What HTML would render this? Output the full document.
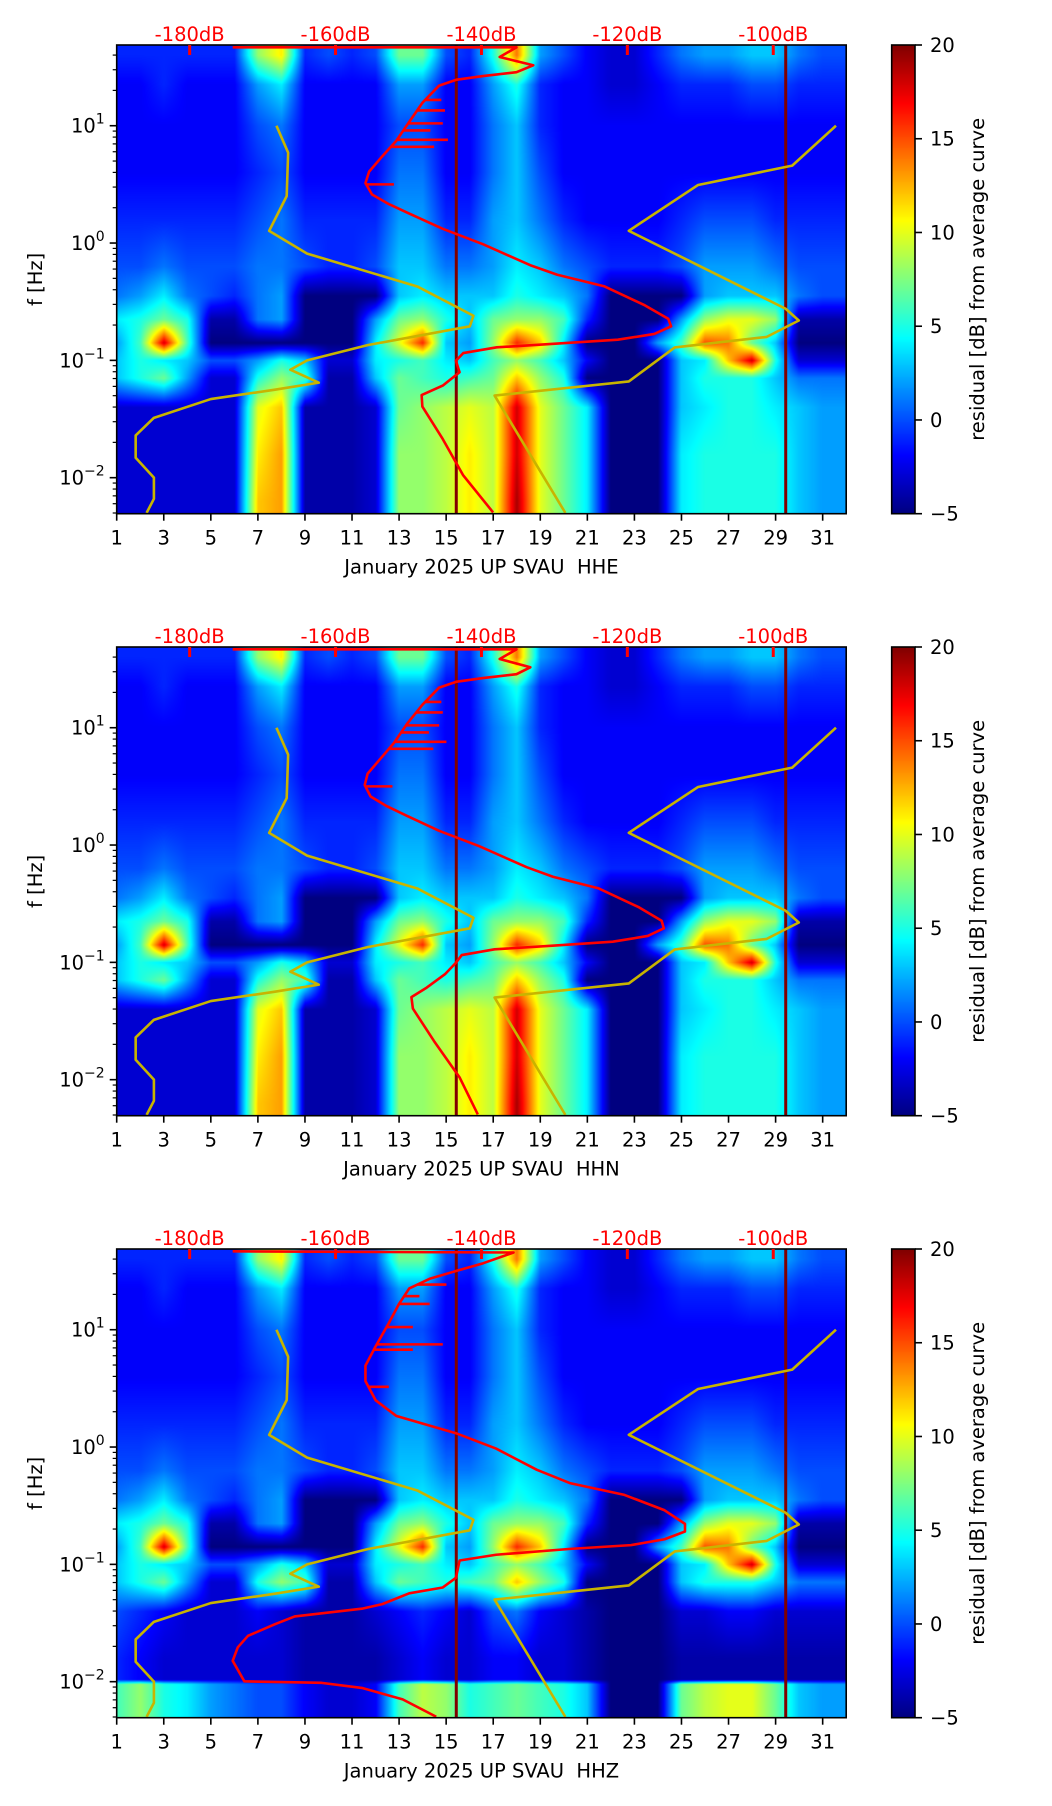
<!DOCTYPE html>
<html><head><meta charset="utf-8"><style>
html,body{margin:0;padding:0;background:#fff;}
#fig{position:relative;width:1052px;height:1806px;overflow:hidden;background:#fff;}
canvas{position:absolute;}
svg{position:absolute;left:0;top:0;}
text{font-family:"DejaVu Sans","Liberation Sans",sans-serif;}
</style></head><body>
<div id="fig"></div>
<script>
// ---------- data ----------
const dayTicks = [1,3,5,7,9,11,13,15,17,19,21,23,25,27,29,31];
const dbTicks = [-180,-160,-140,-120,-100];
const cbTicks = [-5,0,5,10,15,20];
const yDecades = [-2,-1,0,1];
const channels = ["HHE","HHN","HHZ"];
const stationVerticalLines = [15.43, 29.43];

// spectrogram residual grid (dB), rows by log10(f), columns = days 1..31
const rowLogF = [1.6,1.35,1.0,0.6,0.2,-0.2,-0.45,-0.65,-0.85,-1.0,-1.15,-1.4,-1.8,-2.2];
const r0 = [-1,-1,-1,-1,-1,-1,8,11,-1,0,-1,0,7,7,0,-1,5,14,2,0,-2,-3,-3,-1,1,2,2,3,3,1,0];
const r1 = [-2,-2,-1,-2,-2,-2,2,4,-2,-2,-2,-2,2,2,-2,-2,2,5,-1,-2,-2,-3,-3,-2,-1,-1,-1,0,0,-1,-1];
const r2 = [-2,-2,-2,-2,-2,-2,0,1,-2,-2,-2,-2,0,0,-2,-2,1,3,-1,-2,-2,-2,-2,-2,-2,-2,-2,-2,-2,-2,-2];
const r3 = [-2,-2,-2,-2,-2,-2,-1,0,-2,-2,-2,-2,1,1,-2,-2,1,3,0,-2,-2,-2,-2,-2,-2,-2,-2,-2,-2,-2,-2];
const r4 = [-1,-1,-1,-1,-1,-1,0,1,-1,-1,-1,-1,2,2,-1,-1,2,3,1,-1,-2,-2,-2,-2,-1,0,0,0,-1,-1,-1];
const r5 = [0,0,1,0,0,0,1,1,0,-1,-1,0,3,3,1,1,2,4,3,1,0,-1,-1,-1,0,2,2,2,1,0,0];
const r6 = [1,2,4,1,0,-1,1,2,-5,-5,-5,-5,3,4,3,3,3,5,4,3,1,-5,-5,-5,-5,2,3,3,3,1,0];
const r7 = [4,5,7,5,-4,-4,1,2,-5,-5,-5,2,7,8,5,3,7,8,8,6,-1,-5,-5,-5,2,8,10,10,8,-4,-4];
const r8 = [2,6,18,6,-5,-5,-5,-5,-5,-5,-5,4,10,16,3,2,8,16,12,4,-5,-5,-5,2,6,15,14,7,3,-5,-5];
const r9 = [3,5,4,3,0,0,2,5,3,-3,-3,4,5,6,4,3,6,8,6,3,-2,-5,-5,-5,3,4,12,18,5,-3,-3];
const r10 = [3,5,7,2,-3,-3,5,8,6,-4,-4,3,7,6,5,6,7,12,8,5,-5,-5,-5,-5,3,5,5,5,3,1,1];
const r11 = [-3,-3,-3,-3,-3,-3,10,12,-4,-4,-4,-3,7,8,9,10,9,18,10,7,4,-5,-5,-5,3,4,5,5,4,3,2];
const r12 = [-3,-3,-3,-3,-3,-3,11,13,-4,-4,-4,-3,8,8,9,11,9,18,10,7,4,-5,-5,-5,4,5,5,5,5,3,2];
const r13 = [-3,-3,-3,-3,-3,-3,12,13,-4,-4,-4,-3,8,8,9,11,9,19,10,7,4,-5,-5,-5,4,5,5,5,5,3,2];
// HHZ low-frequency differences
const rowLogFZ = [1.6,1.35,1.0,0.6,0.2,-0.2,-0.45,-0.65,-0.85,-1.0,-1.15,-1.4,-1.8,-1.98,-2.02,-2.2];
const z11 = [0,-1,-2,-3,-3,-3,-2,-3,-4,-4,-4,-3,-2,-1,-2,-3,0,1,-2,-3,-4,-5,-5,-5,-3,-3,-2,-2,-3,-3,-3];
const z12 = [-1,-2,-3,-3,-3,-3,-3,-3,-4,-4,-4,-4,-3,-2,-3,-3,-2,-2,-3,-3,-4,-5,-5,-5,-4,-4,-4,-4,-4,-4,-4];
const z14 = [6,8,5,4,2,1,0,0,-2,-3,-3,-2,6,9,8,5,6,7,6,5,3,-5,-5,-5,7,9,10,10,7,3,2];

// low noise model (dB, log10 f)
const nlnmDB = [-168.1,-166.5,-166.7,-169.1,-163.9,-148.8,-141.1,-141.6,-155.6,-163.9,-166.2,-162.3,-168.3,-177.1,-184.9,-187.4,-187.4,-184.9,-184.9,-185.9];
const nlnmLF = [1.0,0.77,0.40,0.104,-0.09,-0.37,-0.62,-0.71,-0.87,-1.0,-1.08,-1.19,-1.25,-1.33,-1.49,-1.64,-1.83,-2.0,-2.18,-2.30];
// high noise model
const nhnmDB = [-91.4,-97.4,-110.3,-119.8,-98.3,-96.5,-100.9,-113.5,-119.8,-138.2,-128.5];
const nhnmLF = [1.0,0.66,0.495,0.104,-0.56,-0.66,-0.80,-0.89,-1.18,-1.30,-2.30];

// average PSD curve HHE
const avgE_DB = [-174.1,-135.2,-137.5,-132.9,-135.2,-139.8,-143.5,-145.8,-148.1,-149.9,-151.7,-153.6,-155.4,-155.9,-155.0,-152.7,-149.9,-145.3,-139.8,-133.3,-129.6,-123.2,-117.6,-114.4,-114.0,-116.3,-121.3,-129.6,-137.9,-142.5,-143.5,-143.0,-145.3,-148.2,-148.1,-145.3,-142.5,-138.4];
const avgE_LF = [1.668,1.668,1.586,1.515,1.456,1.423,1.391,1.342,1.195,1.033,0.870,0.739,0.609,0.511,0.414,0.332,0.251,0.121,-0.010,-0.189,-0.270,-0.368,-0.531,-0.645,-0.710,-0.775,-0.824,-0.857,-0.889,-0.938,-1.003,-1.101,-1.215,-1.296,-1.394,-1.671,-1.980,-2.296];
const spikeE_LF = [1.22,1.13,1.02,0.96,0.88,0.82,0.50];
const spikeE_DB = [-145.5,-145.0,-145.3,-147.0,-144.6,-146.5,-152.0];
// HHN
const avgN_DB = [-174.1,-135.2,-137.5,-133.3,-135.2,-139.8,-143.5,-145.8,-148.1,-150.2,-152.0,-153.8,-155.6,-156.0,-155.2,-153.0,-150.3,-145.8,-140.3,-133.8,-130.2,-124.0,-118.4,-115.3,-115.0,-117.2,-122.0,-130.0,-138.2,-142.7,-143.5,-145.0,-147.5,-149.6,-149.4,-146.5,-143.0,-140.5];
const avgN_LF = [1.668,1.668,1.586,1.515,1.456,1.423,1.391,1.342,1.195,1.033,0.870,0.739,0.609,0.511,0.414,0.332,0.251,0.121,-0.010,-0.189,-0.270,-0.368,-0.531,-0.645,-0.710,-0.775,-0.824,-0.857,-0.889,-0.938,-1.003,-1.101,-1.215,-1.296,-1.394,-1.671,-1.980,-2.296];
const spikeN_LF = [1.22,1.13,1.02,0.96,0.88,0.82,0.50];
const spikeN_DB = [-145.5,-145.3,-145.8,-147.2,-144.8,-146.6,-152.2];
// HHZ
const avgZ_DB = [-174.1,-135.6,-139.8,-143.5,-147.1,-149.9,-151.3,-152.7,-154.5,-155.9,-155.9,-154.5,-151.7,-143.5,-138.0,-132.4,-127.8,-120.4,-114.9,-112.1,-112.1,-114.9,-119.5,-127.8,-138.0,-143.0,-143.5,-145.3,-149.9,-153.6,-156.4,-165.6,-168.3,-172.0,-173.4,-174.1,-172.5,-161.9,-156.4,-150.8,-146.2];
const avgZ_LF = [1.668,1.658,1.566,1.500,1.434,1.352,1.220,1.056,0.859,0.694,0.562,0.398,0.266,0.118,-0.013,-0.194,-0.309,-0.408,-0.539,-0.655,-0.720,-0.786,-0.836,-0.868,-0.918,-0.967,-1.115,-1.197,-1.247,-1.339,-1.378,-1.444,-1.510,-1.609,-1.707,-1.822,-1.997,-2.010,-2.053,-2.151,-2.299];
const spikeZ_LF = [1.385,1.286,1.22,1.023,0.875,0.83,0.513];
const spikeZ_DB = [-144.8,-148.5,-147.1,-149.4,-145.3,-149.4,-152.7];

// ---------- layout ----------
const X0=116.7, X1=846.2, H=468.7, TOPS=[45,647,1249];
const LF0=-2.307, LF1=1.688, DB0=-190, DB1=-90, D0=1, D1=32;
const CBX0=891.7, CBX1=915;
const NS="http://www.w3.org/2000/svg";
function xDay(d){return X0+(d-D0)/(D1-D0)*(X1-X0);}
function xDB(v){return X0+(v-DB0)/(DB1-DB0)*(X1-X0);}
function yLF(lf,top){return top+(LF1-lf)/(LF1-LF0)*H;}
function yCB(v,top){return top+(20-v)/25*H;}
function jet(v){
  let t=Math.max(0,Math.min(1,(v+5)/25));
  const c=x=>Math.max(0,Math.min(1,x));
  return [c(1.5-Math.abs(4*t-3))*255,c(1.5-Math.abs(4*t-2))*255,c(1.5-Math.abs(4*t-1))*255];
}
function interp(arr,pos){
  if(pos<=0) return arr[0];
  if(pos>=arr.length-1) return arr[arr.length-1];
  const i=Math.floor(pos),f=pos-i;
  return arr[i]*(1-f)+arr[i+1]*f;
}
const fig=document.getElementById('fig');
const svg=document.createElementNS(NS,'svg');
svg.setAttribute('width','1052');svg.setAttribute('height','1806');


function mk(tag,attrs,parent){const e=document.createElementNS(NS,tag);for(const k in attrs)e.setAttribute(k,attrs[k]);(parent||svg).appendChild(e);return e;}

const baseRows=[r0,r1,r2,r3,r4,r5,r6,r7,r8,r9,r10,r11,r12,r13];
const zRows=[r0,r1,r2,r3,r4,r5,r6,r7,r8,r9,r10,z11,z12,z12,z14,z14];
const curves=[[avgE_DB,avgE_LF,spikeE_LF,spikeE_DB],[avgN_DB,avgN_LF,spikeN_LF,spikeN_DB],[avgZ_DB,avgZ_LF,spikeZ_LF,spikeZ_DB]];

channels.forEach((ch,pi)=>{
  const top=TOPS[pi];
  const rows = pi===2? zRows: baseRows;
  const lfs = pi===2? rowLogFZ: rowLogF;
  const cv=document.createElement('canvas');
  const W=Math.round(X1-X0), HH=Math.round(H);
  cv.width=W; cv.height=HH;
  cv.style.left=X0+'px'; cv.style.top=top+'px';
  cv.style.width=(X1-X0)+'px'; cv.style.height=H+'px';
  
  
  fig.appendChild(cv);
  const ctx=cv.getContext('2d'); const img=ctx.createImageData(W,HH);
  for(let py=0;py<HH;py++){
    const lf=LF1-(py+0.5)/HH*(LF1-LF0);
    let rp=0;
    if(lf>=lfs[0]) rp=0; else if(lf<=lfs[lfs.length-1]) rp=lfs.length-1;
    else { for(let k=0;k<lfs.length-1;k++){ if(lf<=lfs[k]&&lf>=lfs[k+1]){rp=k+(lfs[k]-lf)/(lfs[k]-lfs[k+1]);break;} } }
    const k0=Math.floor(rp), kf=rp-k0, k1=Math.min(k0+1,rows.length-1);
    for(let px=0;px<W;px++){
      const d=D0+(px+0.5)/W*(D1-D0);
      const cp=d-1;
      const v=interp(rows[k0],cp)*(1-kf)+interp(rows[k1],cp)*kf;
      const c=jet(v); const o=(py*W+px)*4;
      img.data[o]=c[0];img.data[o+1]=c[1];img.data[o+2]=c[2];img.data[o+3]=255;
    }
  }
  ctx.putImageData(img,0,0);

  const cb=document.createElement('canvas');
  cb.width=1; cb.height=HH;
  cb.style.left=CBX0+'px'; cb.style.top=top+'px'; cb.style.width=(CBX1-CBX0)+'px'; cb.style.height=H+'px';
  
  
  fig.appendChild(cb);
  const cctx=cb.getContext('2d'); const cimg=cctx.createImageData(1,HH);
  for(let py=0;py<HH;py++){const v=20-(py+0.5)/HH*25;const c=jet(v);cimg.data[py*4]=c[0];cimg.data[py*4+1]=c[1];cimg.data[py*4+2]=c[2];cimg.data[py*4+3]=255;}
  cctx.putImageData(cimg,0,0);

  const g=mk('g',{});
  
  
  const clipId='clip'+pi;
  const cp=mk('clipPath',{id:clipId},g); mk('rect',{x:X0,y:top,width:X1-X0,height:H},cp);
  const pg=mk('g',{'clip-path':'url(#'+clipId+')'},g);

  stationVerticalLines.forEach(d=>{
    const l=mk('line',{x1:xDay(d),x2:xDay(d),y1:top,y2:top+H,stroke:'#800000','stroke-width':3},pg);
    
    
  });
  const pl1=mk('polyline',{points:nlnmDB.map((v,i)=>xDB(v)+','+yLF(nlnmLF[i],top)).join(' '),fill:'none',stroke:'#c8b400','stroke-width':2.6,'stroke-linejoin':'round'},pg);
  
  
  const pl2=mk('polyline',{points:nhnmDB.map((v,i)=>xDB(v)+','+yLF(nhnmLF[i],top)).join(' '),fill:'none',stroke:'#c8b400','stroke-width':2.6,'stroke-linejoin':'round'},pg);
  
  
  const [cDB,cLF,sLF,sDB]=curves[pi];
  const pr=mk('polyline',{points:cDB.map((v,i)=>xDB(v)+','+yLF(cLF[i],top)).join(' '),fill:'none',stroke:'#ff0000','stroke-width':2.6,'stroke-linejoin':'round'},pg);
  
  
  sLF.forEach((lf,i)=>{
    let base=cDB[2];
    for(let k=1;k<cLF.length-1;k++){ if(lf<=cLF[k]&&lf>=cLF[k+1]){const f=(cLF[k]-lf)/(cLF[k]-cLF[k+1]);base=cDB[k]*(1-f)+cDB[k+1]*f;break;} }
    const s=mk('line',{x1:xDB(base),x2:xDB(sDB[i]),y1:yLF(lf,top),y2:yLF(lf,top),stroke:'#ff0000','stroke-width':2.6},pg);
    
    
  });

  const fr=mk('rect',{x:X0,y:top,width:X1-X0,height:H,fill:'none',stroke:'#000','stroke-width':1.6},g);
  
  
  dayTicks.forEach(d=>{
    const x=xDay(d);
    mk('line',{x1:x,x2:x,y1:top+H,y2:top+H+7,stroke:'#000','stroke-width':1.6},g);
    const t=mk('text',{x:x,y:top+H+31,'font-size':19.5,'text-anchor':'middle',fill:'#000'},g);
    t.textContent=d;
    
    
  });
  dbTicks.forEach(v=>{
    const x=xDB(v);
    mk('line',{x1:x,x2:x,y1:top,y2:top+10,stroke:'#ff0000','stroke-width':3},g);
    const t=mk('text',{x:x,y:top-4,'font-size':19.5,'text-anchor':'middle',fill:'#ff0000'},g);
    t.textContent=v+'dB';
    
    
  });
  for(let dec=-3;dec<=1;dec++){
    for(let m=1;m<=9;m++){
      const lf=dec+Math.log10(m);
      if(lf<LF0||lf>LF1) continue;
      const y=yLF(lf,top);
      mk('line',{x1:X0-(m===1?7:4),x2:X0,y1:y,y2:y,stroke:'#000','stroke-width':m===1?1.6:1.2},g);
    }
  }
  yDecades.forEach(dec=>{
    const y=yLF(dec,top);
    const t=mk('text',{x:X0-12,y:y+7,'font-size':19.5,'text-anchor':'end',fill:'#000'},g);
    const a=mk('tspan',{},t); a.textContent='10';
    const b=mk('tspan',{'font-size':14,dy:-9},t); b.textContent=(dec<0?'\u2212':'')+Math.abs(dec);
    
    
  });
  const yl=mk('text',{x:0,y:0,'font-size':19.5,'text-anchor':'middle',transform:'translate(42,'+(top+H/2)+') rotate(-90)'},g);
  yl.textContent='f [Hz]';
  
  
  const xl=mk('text',{x:(X0+X1)/2,y:top+H+60,'font-size':19.5,'text-anchor':'middle'},g);
  xl.textContent='January 2025 UP SVAU \u00a0'+ch;
  
  
  const cf=mk('rect',{x:CBX0,y:top,width:CBX1-CBX0,height:H,fill:'none',stroke:'#000','stroke-width':1.6},g);
  
  
  cbTicks.forEach(v=>{
    const y=yCB(v,top);
    mk('line',{x1:CBX1,x2:CBX1+7,y1:y,y2:y,stroke:'#000','stroke-width':1.6},g);
    const t=mk('text',{x:CBX1+15,y:y+7,'font-size':19.5,fill:'#000'},g);
    t.textContent=(v<0?'\u2212':'')+Math.abs(v);
    
    
  });
  const cl=mk('text',{x:0,y:0,'font-size':19.5,'text-anchor':'middle',transform:'translate(984,'+(top+H/2)+') rotate(-90)'},g);
  cl.textContent='residual [dB] from average curve';
  
  
});
fig.appendChild(svg);
</script>
</body></html>
